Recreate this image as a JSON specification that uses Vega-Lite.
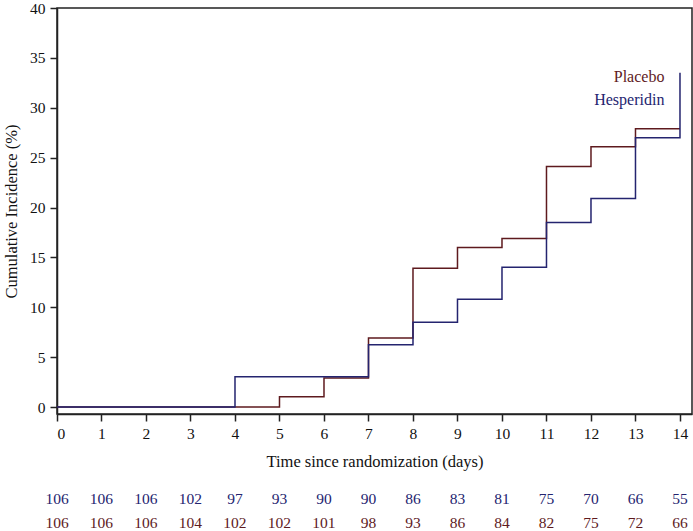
{
  "$schema": "https://vega.github.io/schema/vega-lite/v6.json",
  "padding": {"left": 2, "top": 0, "right": 1, "bottom": 2},
  "background": "white",
  "config": {
    "font": "Liberation Serif",
    "view": {"stroke": null},
    "axis": {"labelFont": "Liberation Serif", "titleFont": "Liberation Serif", "labelFontSize": 15.5, "titleFontSize": 16.5, "titleFontWeight": "normal", "labelColor": "#111", "titleColor": "#111", "domainColor": "#222", "tickColor": "#222", "domainWidth": 1.5, "tickWidth": 1.5, "tickSize": 7, "grid": false}
  },
  "datasets": {
    "curves": [
      {"group": "Hesperidin", "day": 0, "pct": 0},
      {"group": "Hesperidin", "day": 4, "pct": 3.03},
      {"group": "Hesperidin", "day": 7, "pct": 6.23},
      {"group": "Hesperidin", "day": 8, "pct": 8.5},
      {"group": "Hesperidin", "day": 9, "pct": 10.8},
      {"group": "Hesperidin", "day": 10, "pct": 14.0},
      {"group": "Hesperidin", "day": 11, "pct": 18.5},
      {"group": "Hesperidin", "day": 12, "pct": 20.9},
      {"group": "Hesperidin", "day": 13, "pct": 27.0},
      {"group": "Hesperidin", "day": 14, "pct": 33.5},
      {"group": "Placebo", "day": 0, "pct": 0},
      {"group": "Placebo", "day": 5, "pct": 1.03},
      {"group": "Placebo", "day": 6, "pct": 2.9},
      {"group": "Placebo", "day": 7, "pct": 6.93},
      {"group": "Placebo", "day": 8, "pct": 13.9},
      {"group": "Placebo", "day": 9, "pct": 16.0},
      {"group": "Placebo", "day": 10, "pct": 16.9},
      {"group": "Placebo", "day": 11, "pct": 24.1},
      {"group": "Placebo", "day": 12, "pct": 26.1},
      {"group": "Placebo", "day": 13, "pct": 27.9},
      {"group": "Placebo", "day": 14, "pct": 27.9}
    ],
    "labels": [
      {"group": "Placebo", "day": 13.65, "pct": 33.1},
      {"group": "Hesperidin", "day": 13.65, "pct": 30.8}
    ],
    "risk": [
      {"group": "Hesperidin", "day": 0, "n": 106},
      {"group": "Hesperidin", "day": 1, "n": 106},
      {"group": "Hesperidin", "day": 2, "n": 106},
      {"group": "Hesperidin", "day": 3, "n": 102},
      {"group": "Hesperidin", "day": 4, "n": 97},
      {"group": "Hesperidin", "day": 5, "n": 93},
      {"group": "Hesperidin", "day": 6, "n": 90},
      {"group": "Hesperidin", "day": 7, "n": 90},
      {"group": "Hesperidin", "day": 8, "n": 86},
      {"group": "Hesperidin", "day": 9, "n": 83},
      {"group": "Hesperidin", "day": 10, "n": 81},
      {"group": "Hesperidin", "day": 11, "n": 75},
      {"group": "Hesperidin", "day": 12, "n": 70},
      {"group": "Hesperidin", "day": 13, "n": 66},
      {"group": "Hesperidin", "day": 14, "n": 55},
      {"group": "Placebo", "day": 0, "n": 106},
      {"group": "Placebo", "day": 1, "n": 106},
      {"group": "Placebo", "day": 2, "n": 106},
      {"group": "Placebo", "day": 3, "n": 104},
      {"group": "Placebo", "day": 4, "n": 102},
      {"group": "Placebo", "day": 5, "n": 102},
      {"group": "Placebo", "day": 6, "n": 101},
      {"group": "Placebo", "day": 7, "n": 98},
      {"group": "Placebo", "day": 8, "n": 93},
      {"group": "Placebo", "day": 9, "n": 86},
      {"group": "Placebo", "day": 10, "n": 84},
      {"group": "Placebo", "day": 11, "n": 82},
      {"group": "Placebo", "day": 12, "n": 75},
      {"group": "Placebo", "day": 13, "n": 72},
      {"group": "Placebo", "day": 14, "n": 66}
    ]
  },
  "spacing": 16,
  "vconcat": [
    {
      "width": 635,
      "height": 406,
      "view": {"stroke": "#222", "strokeWidth": 1.5},
      "encoding": {
        "x": {"field": "day", "type": "quantitative", "scale": {"domain": [0, 14.27], "nice": false, "zero": false},
              "axis": {"values": [0,1,2,3,4,5,6,7,8,9,10,11,12,13,14], "title": "Time since randomization (days)", "labelPadding": 5, "titlePadding": 12}},
        "y": {"field": "pct", "type": "quantitative", "scale": {"domain": [-0.7, 40], "nice": false, "zero": false},
              "axis": {"values": [0,5,10,15,20,25,30,35,40], "title": "Cumulative Incidence (%)", "labelPadding": 5, "titlePadding": 10}}
      },
      "layer": [
        {"data": {"name": "curves"}, "transform": [{"filter": "datum.group === 'Placebo'"}],
         "mark": {"type": "line", "interpolate": "step-after", "color": "#5e1a1e", "strokeWidth": 1.5}},
        {"data": {"name": "curves"}, "transform": [{"filter": "datum.group === 'Hesperidin'"}],
         "mark": {"type": "line", "interpolate": "step-after", "color": "#24246f", "strokeWidth": 1.5}},
        {"data": {"name": "labels"},
         "mark": {"type": "text", "align": "right", "baseline": "middle", "fontSize": 16, "font": "Liberation Serif"},
         "encoding": {"text": {"field": "group"},
           "color": {"field": "group", "type": "nominal", "scale": {"domain": ["Hesperidin", "Placebo"], "range": ["#24246f", "#5e1a1e"]}, "legend": null}}}
      ]
    },
    {
      "width": 635,
      "height": 48,
      "data": {"name": "risk"},
      "mark": {"type": "text", "baseline": "middle", "align": "center", "fontSize": 15.5, "font": "Liberation Serif"},
      "encoding": {
        "x": {"field": "day", "type": "quantitative", "scale": {"domain": [0, 14.27], "nice": false, "zero": false}, "axis": null},
        "y": {"field": "group", "type": "nominal", "scale": {"domain": ["Hesperidin", "Placebo"], "padding": 0.5}, "axis": null},
        "text": {"field": "n"},
        "color": {"field": "group", "type": "nominal", "scale": {"domain": ["Hesperidin", "Placebo"], "range": ["#24246f", "#5e1a1e"]}, "legend": null}
      }
    }
  ]
}
